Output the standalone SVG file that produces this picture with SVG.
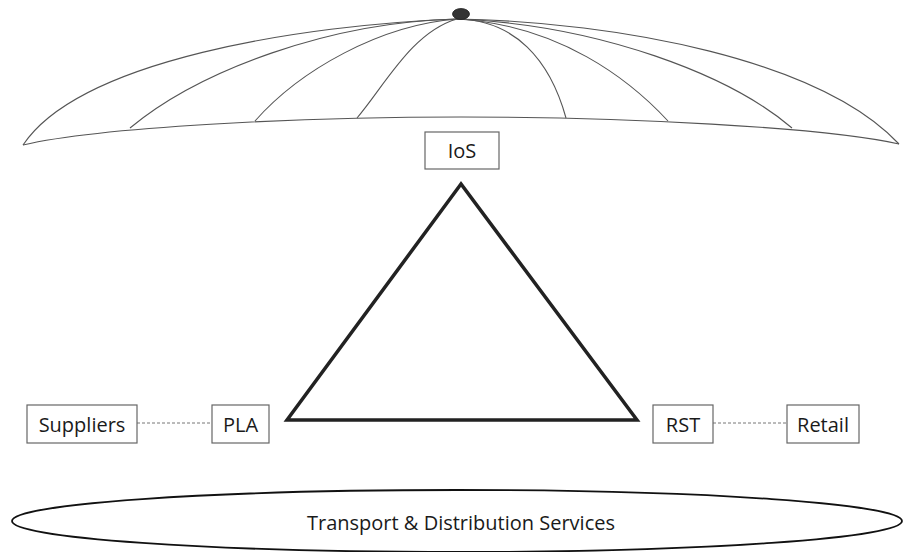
<svg xmlns="http://www.w3.org/2000/svg" width="903" height="552" viewBox="0 0 903 552">
  <defs>
    <style>
      .dome { fill: none; stroke: #555; stroke-width: 1.1; }
      .box { fill: #fff; stroke: #666; stroke-width: 1.2; }
      .lbl { font-family: "Open Sans", "Liberation Sans", sans-serif; font-size: 20px; fill: #1a1a1a; text-anchor: middle; }
      .link { stroke: #777; stroke-width: 1; stroke-dasharray: 3 2; fill: none; }
    </style>
  </defs>
  <rect width="903" height="552" fill="#fff"/>

  <!-- dome canopy -->
  <g id="dome">
    <path class="dome" d="M23,145 C80,60 300,25 457,19"/>
    <path class="dome" d="M457,19 C620,22 820,60 899,144"/>
    <path class="dome" d="M23,145 C100,127 300,117 461,117 C622,117 822,127 899,144"/>
    <path class="dome" d="M130,128 C200,70 330,22 457,19"/>
    <path class="dome" d="M255,121 C300,70 380,25 457,19"/>
    <path class="dome" d="M357,118 C385,85 412,32 457,19"/>
    <path class="dome" d="M457,19 C515,20 550,60 566,118"/>
    <path class="dome" d="M457,19 C560,25 630,80 668,121"/>
    <path class="dome" d="M457,19 C600,25 730,75 792,128"/>
    <ellipse cx="461" cy="14" rx="8.5" ry="5.5" fill="#333" stroke="#222" stroke-width="0.8"/>
  </g>

  <!-- central triangle -->
  <g id="triangle">
    <polygon points="461,184 287,420 637,420" fill="none" stroke="#222" stroke-width="3.5" stroke-linejoin="miter"/>
  </g>

  <!-- dashed links between boxes -->
  <g id="connectors">
    <line class="link" x1="137" y1="423" x2="212" y2="423"/>
    <line class="link" x1="713" y1="423" x2="787" y2="423"/>
  </g>

  <g id="ios">
    <rect class="box" x="425" y="132" width="74" height="37"/>
    <text class="lbl" x="462" y="158">IoS</text>
  </g>
  <g id="suppliers">
    <rect class="box" x="27" y="405" width="110" height="38"/>
    <text class="lbl" x="82" y="432">Suppliers</text>
  </g>
  <g id="pla">
    <rect class="box" x="212" y="405" width="57" height="38"/>
    <text class="lbl" x="240.5" y="432">PLA</text>
  </g>
  <g id="rst">
    <rect class="box" x="653" y="405" width="60" height="38"/>
    <text class="lbl" x="683" y="432">RST</text>
  </g>
  <g id="retail">
    <rect class="box" x="787" y="405" width="72" height="38"/>
    <text class="lbl" x="823" y="432">Retail</text>
  </g>

  <!-- base platform -->
  <g id="transport">
    <ellipse cx="457" cy="521" rx="445" ry="31" fill="none" stroke="#111" stroke-width="1.8"/>
    <text class="lbl" x="461" y="530">Transport &amp; Distribution Services</text>
  </g>
</svg>
